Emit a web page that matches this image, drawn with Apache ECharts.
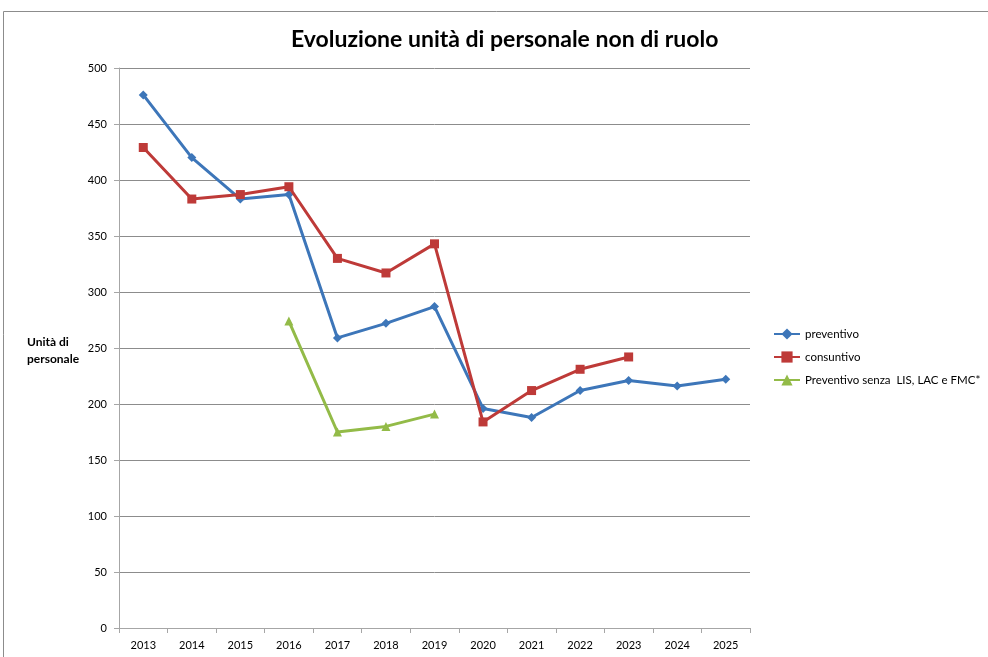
<!DOCTYPE html>
<html>
<head>
<meta charset="utf-8">
<script src="https://cdn.jsdelivr.net/npm/echarts@6/dist/echarts.min.js"></script>
<style>
  html, body { margin: 0; padding: 0; background: #fff; }
  #chart { width: 988px; height: 657px; }
</style>
</head>
<body>
<div id="chart"></div>
<script>
// dati
const anni = ['2013', '2014', '2015', '2016', '2017', '2018', '2019', '2020', '2021', '2022', '2023', '2024', '2025']
const preventivo = [476, 420, 383, 387, 259, 272, 287, 196, 188, 212, 221, 216, 222]
const consuntivo = [429, 383, 387, 394, 330, 317, 343, 184, 212, 231, 242, null, null]
const senzaLis = [null, null, null, 274, 175, 180, 191, null, null, null, null, null, null]

const font = 'Lato, "Open Sans", sans-serif'

const myChart = echarts.init(document.getElementById('chart'))

const options = {
  animation: false,
  title: {
    text: 'Evoluzione unità di personale non di ruolo',
    left: 286,
    top: 23,
    textStyle: { fontFamily: font, fontSize: 23, fontWeight: 'bold', color: '#000' }
  },
  graphic: [
    {
      type: 'rect',
      shape: { x: 3.5, y: 11.5, width: 1000, height: 700 },
      style: { fill: 'none', stroke: '#8c8c8c', lineWidth: 1 },
      silent: true
    },
    {
      type: 'text',
      left: 27,
      top: 334,
      style: {
        text: 'Unità di\npersonale',
        fontFamily: font,
        fontSize: 12,
        fontWeight: 'bold',
        align: 'center',
        lineHeight: 17,
        fill: '#000'
      }
    }
  ],
  legend: {
    orient: 'vertical',
    left: 768,
    top: 323,
    itemGap: 11,
    itemWidth: 26,
    itemHeight: 14,
    textStyle: { fontFamily: font, fontSize: 11.5, color: '#000' },
    data: ['preventivo', 'consuntivo', 'Preventivo senza  LIS, LAC e FMC*']
  },
  grid: {
    left: 119,
    right: 238,
    top: 68,
    bottom: 29,
    containLabel: false
  },
  xAxis: {
    type: 'category',
    data: anni,
    boundaryGap: true,
    axisLine: { lineStyle: { color: '#a6a6a6', width: 1 } },
    axisTick: { show: true, length: 5, lineStyle: { color: '#a6a6a6' } },
    axisLabel: { fontFamily: font, fontSize: 11, color: '#000', margin: 12 }
  },
  yAxis: {
    type: 'value',
    min: 0,
    max: 500,
    interval: 50,
    axisLine: { show: true, lineStyle: { color: '#a6a6a6', width: 1 } },
    axisTick: { show: true, length: 5, lineStyle: { color: '#a6a6a6' } },
    axisLabel: { fontFamily: font, fontSize: 11, color: '#000', margin: 12 },
    splitLine: { lineStyle: { color: '#8c8c8c', width: 1 } }
  },
  series: [
    {
      name: 'preventivo',
      type: 'line',
      data: preventivo,
      symbol: 'diamond',
      symbolSize: 9,
      itemStyle: { color: '#3D76B9' },
      lineStyle: { width: 3, color: '#3D76B9' },
      z: 3
    },
    {
      name: 'consuntivo',
      type: 'line',
      data: consuntivo,
      symbol: 'rect',
      symbolSize: 9,
      itemStyle: { color: '#BE3A38' },
      lineStyle: { width: 3, color: '#BE3A38' },
      z: 4
    },
    {
      name: 'Preventivo senza  LIS, LAC e FMC*',
      type: 'line',
      data: senzaLis,
      symbol: 'triangle',
      symbolSize: 9,
      itemStyle: { color: '#93BB48' },
      lineStyle: { width: 3, color: '#93BB48' },
      z: 2
    }
  ]
}

myChart.setOption(options)
</script>
</body>
</html>
